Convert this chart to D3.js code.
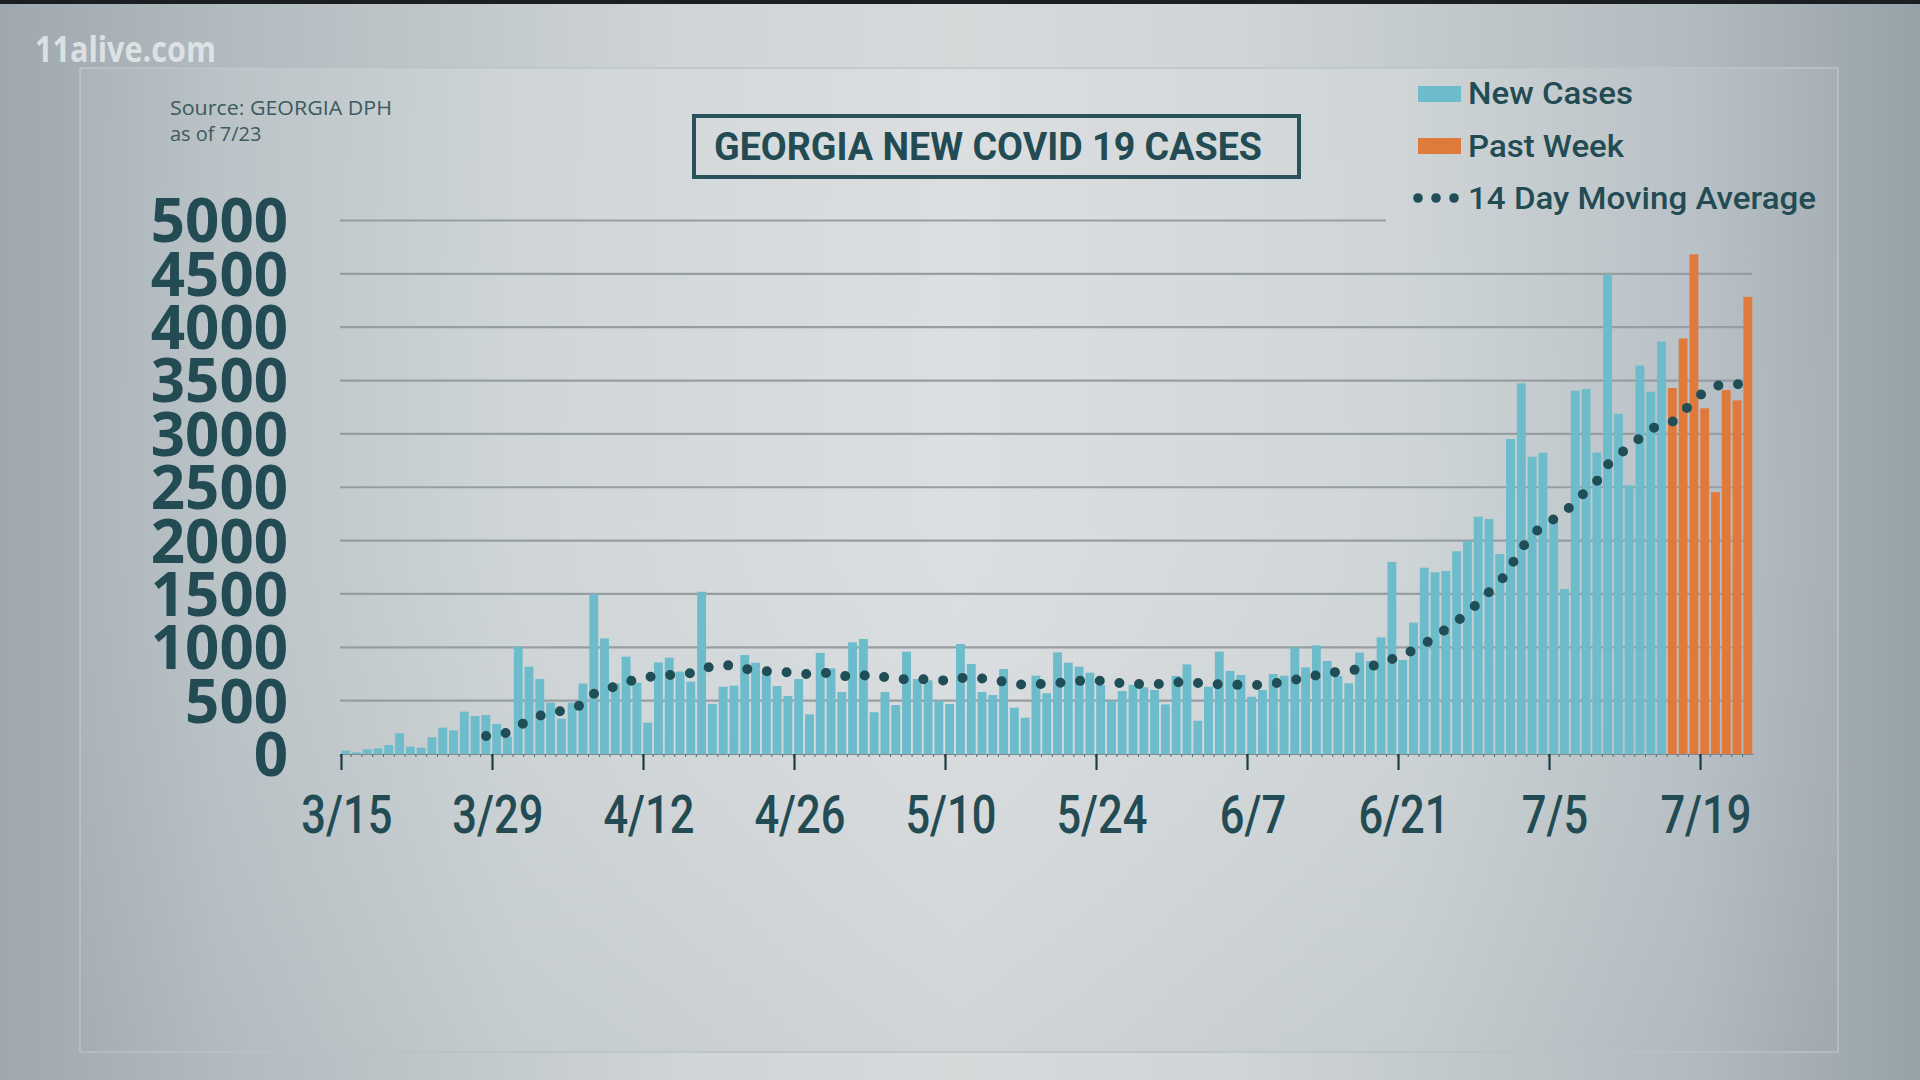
<!DOCTYPE html>
<html><head><meta charset="utf-8">
<script src="https://cdn.jsdelivr.net/npm/d3@7"></script>
<style>
html,body{margin:0;padding:0;width:1920px;height:1080px;overflow:hidden;background:#c3cace;}
svg{display:block}
</style></head><body>
<svg id="chart" width="1920" height="1080"></svg>
<script>
// ---------------- DATA ----------------
const startDate = "2020-03-15";
// daily new cases 3/15 .. 7/15
const newCases = [31,15,44,53,84,194,69,59,156,247,
  222,397,356,365,281,162,1006,818,703,481,
  331,481,660,1497,1084,662,912,668,294,859,
  903,772,678,1521,469,631,640,928,856,772,
  637,544,703,372,947,803,581,1047,1078,391,
  581,459,959,703,690,500,469,1031,843,581,
  553,797,434,340,734,569,953,856,818,762,
  647,500,590,647,625,600,465,731,840,312,
  631,959,778,740,537,600,750,734,1000,812,
  1018,872,731,662,950,872,1093,1800,881,1231,
  1746,1703,1715,1900,1996,2224,2202,1874,2952,3474,
  2786,2824,2181,1546,3405,3421,2825,4493,3189,2519,
  3640,3395,3865];
// past week 7/16 .. 7/23
const pastWeek = [3430,3894,4683,3240,2454,3411,3314,4284];
// 14 day moving average, 3/28 .. 7/23
const maStartOffset = 13;
const movingAverage = [169,185,200,260,320,360,385,403,430,465,
  565,605,634,670,705,722,732,740,750,758,
  790,826,830,832,800,779,776,772,766,755,
  747,755,762,735,718,735,745,720,706,700,
  700,700,692,686,712,720,708,700,676,660,
  646,652,662,666,672,685,692,686,676,662,
  656,656,656,656,670,681,666,653,653,652,
  646,645,650,660,675,695,718,738,756,772,
  785,792,820,848,890,925,975,1030,1100,1170,
  1245,1320,1420,1520,1610,1760,1930,2045,2155,2200,
  2260,2380,2460,2560,2712,2790,2900,2960,3050,3080,
  3115,3200,3330,3390,3450,3465,3465,3465];
const yTicks = [0,500,1000,1500,2000,2500,3000,3500,4000,4500,5000];
const xTickLabels = ["3/15","3/29","4/12","4/26","5/10","5/24","6/7","6/21","7/5","7/19"];
const legendLabels = ["New Cases","Past Week","14 Day Moving Average"];

// ---------------- STYLE ----------------
const C = {
  text:"#234b53", blue:"#6dbccb", orange:"#e07a3c", dot:"#1f4e56",
  grid:"#979ea1", tick:"#1f3d44"
};

const svg = d3.select("#chart");
const defs = svg.append("defs");

function linGrad(id, stops, vertical){
  const g = defs.append("linearGradient").attr("id",id)
    .attr("x1","0").attr("y1","0").attr("x2",vertical?"0":"1").attr("y2",vertical?"1":"0");
  stops.forEach(s=>g.append("stop").attr("offset",s[0]).attr("stop-color",s[1]).attr("stop-opacity",s[2]===undefined?1:s[2]));
}
linGrad("bgOuter",[[0,"#9ea8ae"],[0.12,"#b2bbc0"],[0.35,"#cfd4d6"],[0.5,"#d7dadb"],[0.65,"#cfd4d6"],[0.88,"#b2bbc0"],[1,"#97a2a8"]]);
linGrad("bgPanel",[[0,"#a6b0b6"],[0.08,"#b7c0c4"],[0.25,"#cdd3d5"],[0.5,"#dadddf"],[0.75,"#cdd3d5"],[0.92,"#b5bec3"],[1,"#a1abb1"]]);
linGrad("bgShade",[[0,"#ffffff",0.05],[0.45,"#ffffff",0.06],[1,"#8c989e",0.12]],true);

svg.append("rect").attr("width",1920).attr("height",1080).attr("fill","url(#bgOuter)");
svg.append("rect").attr("width",1920).attr("height",4).attr("fill","#1b1f21");
svg.append("rect").attr("x",80).attr("y",68).attr("width",1758).attr("height",984)
  .attr("fill","url(#bgPanel)").attr("stroke","#bcc4c8").attr("stroke-width",1.5);
svg.append("rect").attr("x",80).attr("y",68).attr("width",1758).attr("height",984)
  .attr("fill","url(#bgShade)");

// ---------------- SCALES ----------------
const parse = d3.timeParse("%Y-%m-%d");
const d0 = parse(startDate);
const allCases = newCases.concat(pastWeek);
const nDays = allCases.length;
const days = allCases.map((v,i)=>({date:d3.timeDay.offset(d0,i), value:v, past:i>=newCases.length}));

const x = d3.scaleTime().domain([d0, d3.timeDay.offset(d0,nDays)]).range([341, 341+nDays*10.786]);
const dayW = x(d3.timeDay.offset(d0,1)) - x(d0);
const y = d3.scaleLinear().domain([0,5000]).range([754, 220.5]);

// ---------------- GRID ----------------
svg.append("g").selectAll("line").data(yTicks.filter(v=>v>0)).join("line")
  .attr("x1",340).attr("x2",v=>v===5000?1386:1752)
  .attr("y1",v=>y(v)).attr("y2",v=>y(v))
  .attr("stroke",C.grid).attr("stroke-width",2.2);

// baseline
svg.append("line").attr("x1",340).attr("x2",x.range()[1]).attr("y1",y(0)+0.5).attr("y2",y(0)+0.5)
  .attr("stroke","#7f8c91").attr("stroke-width",1.2);

// ---------------- BARS ----------------
svg.append("g").selectAll("rect").data(days).join("rect")
  .attr("x",d=>x(d.date)+0.2)
  .attr("width",dayW-1.9)
  .attr("y",d=>y(d.value))
  .attr("height",d=>y(0)-y(d.value))
  .attr("fill",d=>d.past?C.orange:C.blue);

// small daily ticks
svg.append("g").selectAll("line").data(days).join("line")
  .attr("x1",d=>x(d.date)-0.6).attr("x2",d=>x(d.date)-0.6)
  .attr("y1",y(0)).attr("y2",y(0)+3)
  .attr("stroke","#55696f").attr("stroke-width",1);

// ---------------- MOVING AVERAGE ----------------
const maData = movingAverage.map((v,i)=>({date:d3.timeDay.offset(d0,i+maStartOffset), value:v}));
const line = d3.line().x(d=>x(d.date)+dayW*0.45).y(d=>y(d.value));
svg.append("path").datum(maData).attr("d",line)
  .attr("fill","none").attr("stroke",C.dot).attr("stroke-width",10)
  .attr("stroke-linecap","round").attr("stroke-dasharray","0 19.74");

// ---------------- AXES ----------------
const tickDates = xTickLabels.map(l=>d3.timeParse("%m/%d/%Y")(l+"/2020"));
const gx = svg.append("g").attr("transform",`translate(0,${y(0)})`)
  .call(d3.axisBottom(x).tickValues(tickDates).tickSize(16).tickFormat((d,i)=>xTickLabels[i]));
gx.select(".domain").remove();
gx.selectAll(".tick line").attr("stroke",C.tick).attr("stroke-width",2.2);
gx.selectAll(".tick text")
  .attr("y",79).attr("dy",0)
  .attr("transform",`translate(${dayW/2},0) scale(0.82,1)`)
  .attr("fill",C.text).attr("font-family","Roboto, sans-serif").attr("font-weight",500)
  .attr("font-size",53);

const gy = svg.append("g").attr("transform","translate(288,0)")
  .call(d3.axisLeft(y).tickValues(yTicks).tickSize(0).tickPadding(0).tickFormat(d3.format("d")));
gy.select(".domain").remove();
gy.selectAll(".tick text").attr("dy","0.357em")
  .attr("fill",C.text).attr("font-family","'Open Sans', sans-serif").attr("font-weight",700)
  .attr("font-size",60);

// ---------------- TEXTS ----------------
svg.append("text").attr("x",35).attr("y",62).text("11alive.com")
  .attr("font-family","'Open Sans', sans-serif").attr("font-weight",700).attr("font-size",35)
  .attr("textLength",181).attr("lengthAdjust","spacingAndGlyphs")
  .attr("fill","#e4e8ea").attr("fill-opacity",0.9);

svg.append("text").attr("x",170).attr("y",115).text("Source: GEORGIA DPH")
  .attr("font-family","'Open Sans', sans-serif").attr("font-size",20).attr("fill","#3b5a60")
  .attr("textLength",222).attr("lengthAdjust","spacingAndGlyphs");
svg.append("text").attr("x",170).attr("y",141).text("as of 7/23")
  .attr("font-family","'Open Sans', sans-serif").attr("font-size",20).attr("fill","#3b5a60");

// title box
svg.append("rect").attr("x",694).attr("y",116).attr("width",605).attr("height",61)
  .attr("fill","none").attr("stroke","#2a525a").attr("stroke-width",4);
svg.append("text").attr("x",714).attr("y",160).text("GEORGIA NEW COVID 19 CASES")
  .attr("font-family","Roboto, sans-serif").attr("font-weight",700).attr("font-size",39)
  .attr("textLength",548).attr("lengthAdjust","spacingAndGlyphs").attr("fill",C.text);

// legend
const leg = svg.append("g");
leg.append("rect").attr("x",1418).attr("y",86).attr("width",43).attr("height",16).attr("fill",C.blue);
leg.append("rect").attr("x",1418).attr("y",138).attr("width",43).attr("height",16).attr("fill",C.orange);
leg.selectAll("circle").data([0,1,2]).join("circle")
  .attr("cx",d=>1418+d*18).attr("cy",198).attr("r",4.8).attr("fill",C.dot);
const legPos = [{y:104,w:165},{y:157,w:156},{y:209,w:348}];
leg.selectAll("text").data(legendLabels).join("text")
  .attr("x",1468).attr("y",(d,i)=>legPos[i].y).text(d=>d)
  .attr("font-family","Roboto, sans-serif").attr("font-weight",500).attr("font-size",32)
  .attr("textLength",(d,i)=>legPos[i].w).attr("lengthAdjust","spacingAndGlyphs")
  .attr("fill",C.text);
</script>
</body></html>
